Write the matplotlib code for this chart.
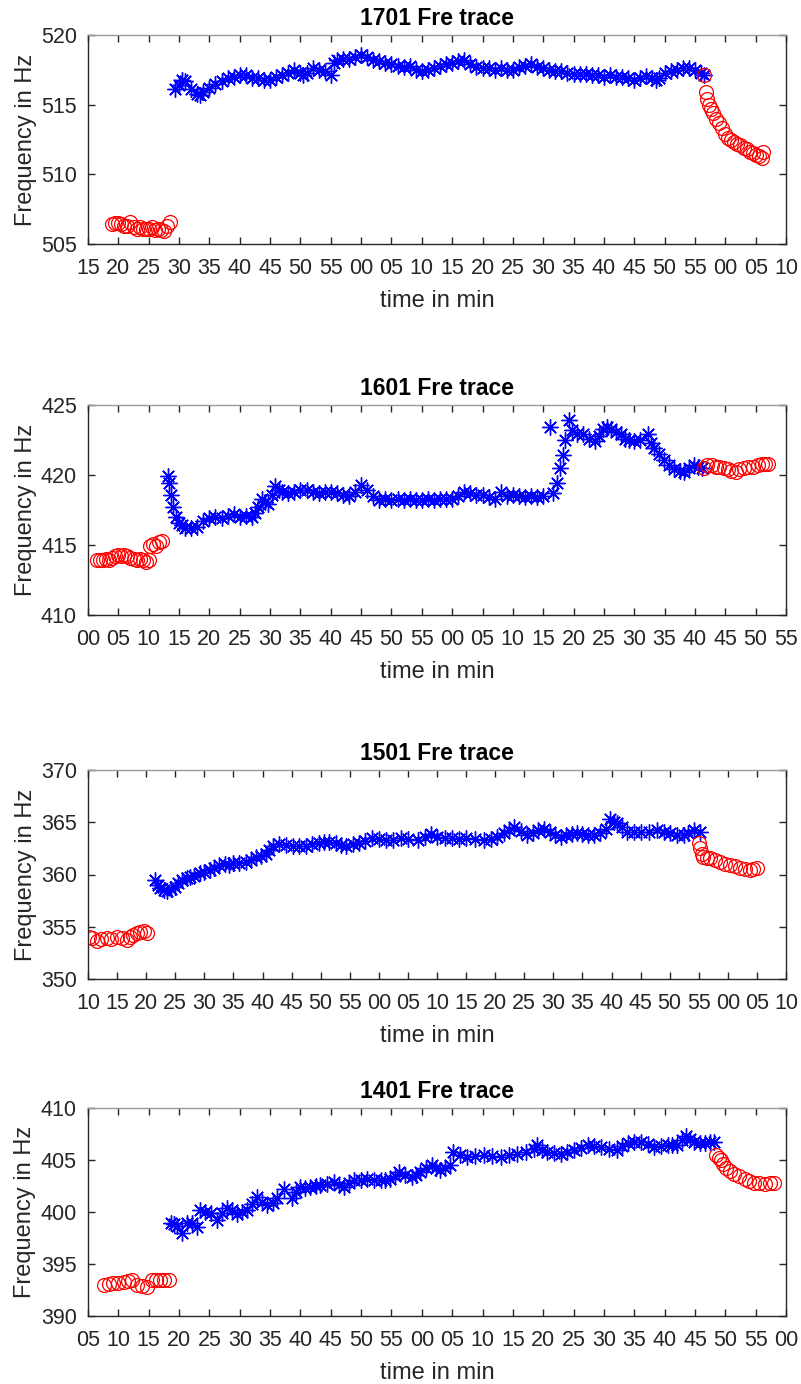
import numpy as np
import matplotlib
matplotlib.use("Agg")
import matplotlib.pyplot as plt
from matplotlib.ticker import FuncFormatter, MultipleLocator

# ---- 1701 ----
r1a_t = [19, 19.5, 20, 20.5, 21, 21.5, 22, 22.5, 23, 23.5, 24, 24.5, 25, 25.5, 26, 26.5, 27, 27.5, 28, 28.5]
r1a_f = [506.4, 506.5, 506.5, 506.4, 506.3, 506.3, 506.6, 506.2, 506.1, 506.2, 506.1, 506.1, 506.1, 506.2, 506.0, 506.1, 506.0, 505.9, 506.3, 506.6]
b1_t = [29.3, 30, 30.5, 31, 32, 33, 33.5, 34, 35, 36, 37, 38, 39, 40, 41, 42, 43, 44, 45, 46, 47, 48, 49, 50, 50.5,
        51, 52, 53, 54, 55, 55.5, 56, 57, 58, 59, 60, 61, 62, 63, 64, 65, 66, 67, 68, 69, 70, 71, 72, 73, 74, 75,
        76, 77, 78, 79, 80, 81, 82, 83, 84, 85, 86, 87, 88, 89, 90, 91, 92, 93, 94, 95, 96, 97, 98, 99, 100, 101,
        102, 103, 104, 105, 106, 107, 108, 108.5, 109, 110, 111, 112, 113, 114, 115, 116, 116.5]
b1_f = [516.1, 516.4, 516.8, 516.7, 516.1, 515.8, 515.7, 515.9, 516.2, 516.5, 516.7, 516.9, 517.0, 517.1, 517.1, 516.9,
        516.9, 516.8, 516.8, 517.0, 517.1, 517.3, 517.5, 517.3, 517.1, 517.3, 517.6, 517.5, 517.4, 517.1, 518.0, 518.2,
        518.3, 518.3, 518.4, 518.55, 518.4, 518.2, 518.1, 518.0, 517.9, 517.8, 517.7, 517.8, 517.5, 517.4, 517.5, 517.6,
        517.8, 517.9, 518.0, 518.1, 518.2, 517.9, 517.7, 517.6, 517.6, 517.5, 517.6, 517.5, 517.5, 517.7, 517.8, 517.9,
        517.7, 517.6, 517.5, 517.4, 517.4, 517.3, 517.2, 517.2, 517.2, 517.1, 517.1, 517.0, 517.1, 517.0, 517.0, 516.9,
        516.8, 516.9, 517.05, 516.9, 516.8, 516.9, 517.3, 517.4, 517.5, 517.6, 517.6, 517.5, 517.3, 517.1]
r1b_t = [116.5, 116.8, 117, 117.3, 117.6, 118, 118.5, 119, 119.5, 120, 120.5, 121, 121.5, 122, 122.5, 123, 123.5, 124,
         124.5, 125, 125.5, 126, 126.2]
r1b_f = [517.1, 515.9, 515.4, 515.0, 514.7, 514.4, 514.0, 513.7, 513.3, 512.9, 512.6, 512.45, 512.3, 512.2, 512.1, 511.9,
         511.8, 511.6, 511.5, 511.4, 511.3, 511.15, 511.6]

# ---- 1601 ----
r2a_t = [1.5, 2, 2.5, 3, 3.5, 4, 4.5, 5, 5.5, 6, 6.5, 7, 7.5, 8, 8.5, 9, 9.5, 10, 10.2, 10.7, 11.2, 11.7, 12.2]
r2a_f = [413.9, 413.9, 413.9, 414.0, 413.9, 414.1, 414.2, 414.3, 414.2, 414.3, 414.2, 414.1, 414.0, 413.9, 414.0, 413.9,
         413.8, 413.9, 414.9, 415.1, 414.9, 415.2, 415.3]
b2_t = [13.1, 13.4, 13.7, 14, 14.5, 15, 15.5, 16, 17, 18, 19, 20, 21, 22, 23, 24, 25, 26, 27, 27.5, 28, 28.6, 29.2, 29.7,
        30.3, 30.8, 31.5, 32, 33, 34, 35, 36, 37, 38, 39, 40, 41, 42, 43, 44, 45, 46, 47, 48, 49, 50, 51, 52, 53, 54, 55,
        56, 57, 58, 59, 60, 61, 62, 63, 64, 65, 66, 67, 68, 69, 70, 71, 72, 73, 74, 75, 76.1, 76.6, 77.2, 77.8, 78.3,
        78.6, 79.2, 79.7, 80.5, 81.5, 82.5, 83.5, 84.2, 84.9, 85.5, 86.2, 87, 87.8, 88.5, 89.2, 90, 91, 92.2, 92.7, 93.3,
        94, 94.9, 95.7, 96.6, 97.5, 98.2, 99, 99.9, 100.5, 101.2]
b2_f = [419.9, 419.4, 418.6, 417.7, 417.0, 416.6, 416.4, 416.2, 416.2, 416.3, 416.7, 416.9, 417.0, 416.9, 417.1, 417.2,
        417.0, 417.1, 417.0, 417.3, 417.7, 418.3, 418.1, 417.9, 418.6, 419.2, 418.9, 418.8, 418.7, 418.8, 418.9, 418.9,
        418.8, 418.7, 418.8, 418.8, 418.7, 418.6, 418.5, 418.8, 419.3, 418.9, 418.5, 418.2, 418.3, 418.2, 418.3, 418.2,
        418.3, 418.2, 418.2, 418.3, 418.2, 418.3, 418.3, 418.3, 418.5, 418.8, 418.7, 418.6, 418.6, 418.4, 418.3, 418.8,
        418.5, 418.6, 418.5, 418.4, 418.5, 418.4, 418.5, 423.4, 418.7, 419.4, 420.5, 421.4, 422.5, 423.9, 423.2, 422.9,
        422.9, 422.6, 422.4, 422.8, 423.3, 423.4, 423.3, 423.1, 422.9, 422.6, 422.5, 422.4, 422.5, 422.9, 422.3, 421.9,
        421.5, 421.1, 420.7, 420.4, 420.3, 420.2, 420.5, 420.7, 420.6, 420.5]
r2b_t = [101.5, 102, 102.8, 103.5, 104, 104.8, 105.5, 106, 106.7, 107.3, 108, 108.8, 109.5, 110.4, 111, 111.5, 112]
r2b_f = [420.5, 420.7, 420.7, 420.6, 420.6, 420.5, 420.4, 420.3, 420.25, 420.4, 420.5, 420.55, 420.6, 420.7, 420.8,
         420.8, 420.8]

# ---- 1501 ----
r3a_t = [10.1, 10.7, 11.5, 12.3, 13.2, 14, 15, 15.8, 16.7, 17.3, 17.8, 18.5, 19, 19.6, 20.1]
r3a_f = [354.05, 353.9, 353.6, 353.8, 353.9, 353.8, 354.05, 353.9, 353.7, 354.0, 354.2, 354.4, 354.5, 354.6, 354.4]
b3_t = [21.5, 22, 22.4, 23, 23.5, 24.2, 24.9, 25.5, 26.1, 27, 27.5, 28.3, 29.2, 30, 30.9, 31.7, 32.6, 33.5, 34.2, 34.9,
        36, 37.2, 38, 38.9, 39.7, 40.6, 41.2, 41.8, 42.9, 44, 45.2, 46.3, 47.4, 48.5, 49.7, 50.5, 51.4, 52.6, 53.5, 54.3,
        55.5, 56.6, 57.7, 58.9, 60, 61.2, 62.5, 63.8, 65, 66.7, 68, 69, 70, 71.3, 72.5, 73.7, 75, 76.5, 78.1, 79.3, 80.4,
        81.5, 82.4, 83.3, 84.4, 85.5, 86.5, 87.4, 88.4, 89.4, 90.3, 91.3, 92.2, 93.2, 94.1, 95, 96, 97, 98, 99, 99.8,
        100.4, 101, 101.8, 102.7, 103.8, 105, 106.5, 107.8, 109, 110.1, 111.2, 112.4, 113.2, 114.1, 115.3]
b3_f = [359.45, 359.0, 358.7, 358.5, 358.4, 358.6, 358.8, 359.2, 359.5, 359.7, 359.8, 359.9, 360.1, 360.2, 360.4, 360.6,
        360.9, 361.0, 360.9, 361.1, 361.1, 361.2, 361.4, 361.7, 361.8, 362.0, 362.3, 362.7, 362.95, 362.8, 362.7, 362.7,
        362.7, 362.9, 363.0, 363.1, 363.1, 363.0, 362.8, 362.7, 362.9, 363.0, 363.2, 363.45, 363.4, 363.3, 363.3, 363.45,
        363.4, 363.3, 363.6, 363.9, 363.6, 363.45, 363.5, 363.4, 363.45, 363.4, 363.3, 363.4, 363.6, 364.0, 364.3,
        364.55, 364.2, 363.8, 364.0, 364.3, 364.4, 364.1, 363.8, 363.6, 363.8, 363.9, 363.95, 363.9, 363.8, 363.8, 364.0,
        364.4, 365.35, 365.0, 364.9, 364.5, 364.1, 364.1, 364.1, 364.1, 364.25, 364.1, 363.95, 363.8, 363.8, 364.0,
        364.25, 364.1]
r3b_t = [115, 115.3, 115.6, 115.8, 116.4, 117, 117.8, 118.7, 119.5, 120.4, 121.2, 122.1, 122.9, 123.8, 124.4, 125]
r3b_f = [363.0, 362.5, 362.0, 361.7, 361.6, 361.55, 361.4, 361.2, 361.0, 360.9, 360.8, 360.6, 360.5, 360.4, 360.5, 360.6]

# ---- 1401 ----
r4a_t = [7.6, 8.4, 9.2, 10, 10.9, 11.6, 12.3, 13.1, 13.9, 14.7, 15.5, 16.2, 16.9, 17.6, 18.3]
r4a_f = [392.98, 393.1, 393.2, 393.2, 393.3, 393.35, 393.45, 393.0, 392.9, 392.8, 393.5, 393.5, 393.45, 393.5, 393.45]
b4_t = [18.6, 19.2, 19.7, 20.5, 21.3, 22.2, 23, 23.5, 24.3, 25.2, 26.3, 27.1, 27.9, 28.8, 29.6, 30.4, 31.2, 32, 32.9,
        33.7, 34.5, 35.4, 36.2, 37.3, 38.6, 39.3, 40, 40.8, 41.6, 42.5, 43.3, 44.4, 45.5, 46.3, 47.1, 48, 48.8, 49.9, 51,
        52.1, 53.2, 54, 54.8, 55.5, 56.2, 57.3, 58.3, 59, 59.7, 60.7, 61.7, 62.3, 63, 63.8, 64.7, 65.2, 66.3, 67.4, 68.8,
        70.2, 71.6, 73, 74.3, 75.7, 77.1, 78.5, 79, 79.8, 80.7, 81.8, 82.9, 84, 85.1, 86.2, 87.3, 88.4, 89.5, 90.8, 92.2,
        93, 93.9, 95, 96.1, 97.2, 98.3, 99.4, 100.5, 101.3, 102.1, 102.8, 103.5, 104.2, 104.9, 105.8, 106.6, 107.4, 108.2]
b4_f = [398.9, 398.8, 398.7, 397.95, 398.9, 398.9, 398.6, 400.2, 400.0, 399.9, 399.2, 399.9, 400.35, 400.2, 399.85, 400.0,
        400.2, 400.8, 401.45, 401.0, 400.65, 400.9, 401.3, 402.25, 401.3, 401.9, 402.4, 402.3, 402.4, 402.5, 402.6, 402.7,
        402.9, 402.6, 402.4, 402.8, 403.05, 403.1, 403.2, 403.1, 403.05, 403.1, 403.2, 403.5, 403.85, 403.6, 403.4, 403.6,
        403.85, 404.2, 404.5, 404.2, 404.0, 404.2, 404.5, 405.8, 405.5, 405.3, 405.4, 405.45, 405.4, 405.3, 405.5, 405.6,
        405.8, 406.1, 406.4, 406.0, 405.8, 405.7, 405.6, 405.8, 405.95, 406.2, 406.4, 406.3, 406.25, 406.1, 405.95, 406.3,
        406.6, 406.7, 406.75, 406.5, 406.25, 406.35, 406.4, 406.45, 406.45, 406.9, 407.35, 407.0, 406.75, 406.6, 406.6,
        406.7, 406.75]
r4b_t = [108.5, 108.9, 109.3, 109.7, 110.1, 110.8, 111.5, 112.3, 113.2, 113.9, 114.7, 115.6, 116.5, 117.3, 118.1]
r4b_f = [405.45, 405.2, 405.0, 404.6, 404.2, 403.9, 403.7, 403.45, 403.2, 403.0, 402.75, 402.75, 402.7, 402.75, 402.75]

titles = ["1701 Fre trace", "1601 Fre trace", "1501 Fre trace", "1401 Fre trace"]
xlims = [(15, 130), (0, 115), (10, 130), (5, 120)]
ylims = [(505, 520), (410, 425), (350, 370), (390, 410)]
panels = [(r1a_t, r1a_f, b1_t, b1_f, r1b_t, r1b_f),
          (r2a_t, r2a_f, b2_t, b2_f, r2b_t, r2b_f),
          (r3a_t, r3a_f, b3_t, b3_f, r3b_t, r3b_f),
          (r4a_t, r4a_f, b4_t, b4_f, r4b_t, r4b_f)]

plt.rcParams['font.family'] = ['Liberation Sans', 'DejaVu Sans']
W, H = 801, 1384
fig = plt.figure(figsize=(W / 100, H / 100), dpi=100)
boxes = [(35, 244), (405, 615), (770, 979), (1108, 1316)]  # top, bottom in pixels
grey = '#262626'
star = (8, 2, 0)  # matlab style asterisk

for k in range(4):
    top, bot = boxes[k]
    ax = fig.add_axes([88 / W, 1 - bot / H, 698 / W, (bot - top) / H])
    ra_t, ra_f, b_t, b_f, rb_t, rb_f = panels[k]
    ax.plot(ra_t, ra_f, 'o', color='red', mfc='none', ms=10, mew=0.9)
    ax.plot(b_t, b_f, marker=star, ls='none', color='blue', ms=11.5, mew=1.0)
    ax.plot(rb_t, rb_f, 'o', color='red', mfc='none', ms=10, mew=0.9)
    ax.set_xlim(*xlims[k])
    ax.set_ylim(*ylims[k])
    ax.xaxis.set_major_locator(MultipleLocator(5))
    ax.yaxis.set_major_locator(MultipleLocator(5))
    ax.xaxis.set_major_formatter(FuncFormatter(lambda v, p: "%02d" % (int(round(v)) % 60)))
    ax.tick_params(direction='in', top=True, right=True, length=5, width=1, colors=grey, labelsize=15.5)
    ax.tick_params(axis='x', pad=10)
    ax.tick_params(axis='y', pad=8)
    for s in ax.spines.values():
        s.set_color(grey)
        s.set_linewidth(1)
    ax.spines['top'].set_color('#999999')
    ax.set_title(titles[k], fontsize=16.5, fontweight='bold', pad=7)
    ax.set_xlabel("time in min", fontsize=17, color=grey, labelpad=8)
    ax.set_ylabel("Frequency in Hz", fontsize=17, color=grey, labelpad=3)

fig.savefig("out.png", dpi=100)
